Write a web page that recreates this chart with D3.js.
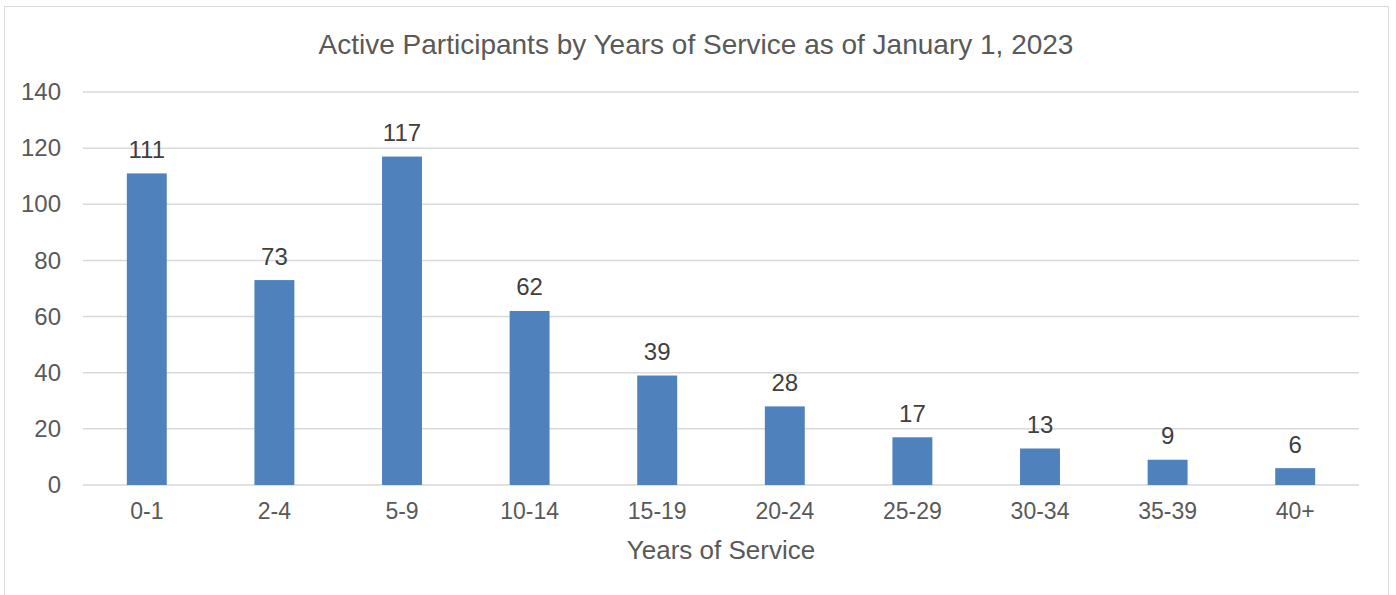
<!DOCTYPE html>
<html>
<head>
<meta charset="utf-8">
<script src="https://cdn.jsdelivr.net/npm/d3@7"></script>
<style>
  body { margin: 0; background: #fff; }
  svg { font-family: "Liberation Sans", Arial, sans-serif; }
</style>
</head>
<body>
<svg id="chart" width="1396" height="595"></svg>
<script>
// chart data
var categories = ["0-1", "2-4", "5-9", "10-14", "15-19", "20-24", "25-29", "30-34", "35-39", "40+"];
var participants = [111, 73, 117, 62, 39, 28, 17, 13, 9, 6];
var yTicks = [0, 20, 40, 60, 80, 100, 120, 140];

var svg = d3.select('#chart');
var margin = {top: 92, right: 37, bottom: 110, left: 83};
var w = 1396 - margin.left - margin.right;
var h = 595 - margin.top - margin.bottom;

// outer frame
svg.append("rect")
    .attr("x", 4.5).attr("y", 6.5)
    .attr("width", 1384).attr("height", 600)
    .attr("fill", "none")
    .attr("stroke", "#d9d9d9");

svg.append("text")
    .attr("x", 696).attr("y", 54)
    .attr("text-anchor", "middle")
    .attr("fill", "#595959")
    .style("font-size", "28px")
    .text("Active Participants by Years of Service as of January 1, 2023");

var x = d3.scaleBand().domain(categories).range([0, w]);
var y = d3.scaleLinear().domain([0, 140]).range([h, 0]);

var g = svg.append("g")
    .attr("transform", "translate(" + margin.left + "," + margin.top + ")");

// gridlines
g.selectAll(".grid")
    .data(yTicks)
    .enter().append("line")
    .attr("x1", 0).attr("x2", w)
    .attr("y1", function(d) { return y(d); })
    .attr("y2", function(d) { return y(d); })
    .attr("stroke", "#d9d9d9")
    .attr("stroke-width", 1.5);

// y axis
var yAxis = g.append("g")
    .call(d3.axisLeft(y).tickValues(yTicks).tickSize(0).tickPadding(22));
yAxis.select(".domain").remove();
yAxis.selectAll("text")
    .attr("fill", "#595959")
    .style("font-size", "24px")
    .attr("font-family", null);

// x axis
var xAxis = g.append("g")
    .attr("transform", "translate(0," + h + ")")
    .call(d3.axisBottom(x).tickSize(0).tickPadding(18));
xAxis.select(".domain").remove();
xAxis.selectAll("text")
    .attr("fill", "#595959")
    .style("font-size", "23px")
    .attr("font-family", null);

var barW = x.bandwidth() * 0.313;

g.selectAll(".bar")
    .data(participants)
    .enter().append("rect")
    .attr("class", "bar")
    .attr("x", function(d, i) { return x(categories[i]) + x.bandwidth() / 2 - barW / 2; })
    .attr("y", function(d) { return y(d); })
    .attr("width", barW)
    .attr("height", function(d) { return h - y(d); })
    .attr("fill", "#4f81bd");

g.selectAll(".label")
    .data(participants)
    .enter().append("text")
    .attr("x", function(d, i) { return x(categories[i]) + x.bandwidth() / 2; })
    .attr("y", function(d) { return y(d) - 15.5; })
    .attr("text-anchor", "middle")
    .attr("fill", "#404040")
    .style("font-size", "24px")
    .text(function(d) { return d; });

svg.append("text")
    .attr("x", margin.left + w / 2).attr("y", 559)
    .attr("text-anchor", "middle")
    .attr("fill", "#595959")
    .style("font-size", "26px")
    .text("Years of Service");
</script>
</body>
</html>
